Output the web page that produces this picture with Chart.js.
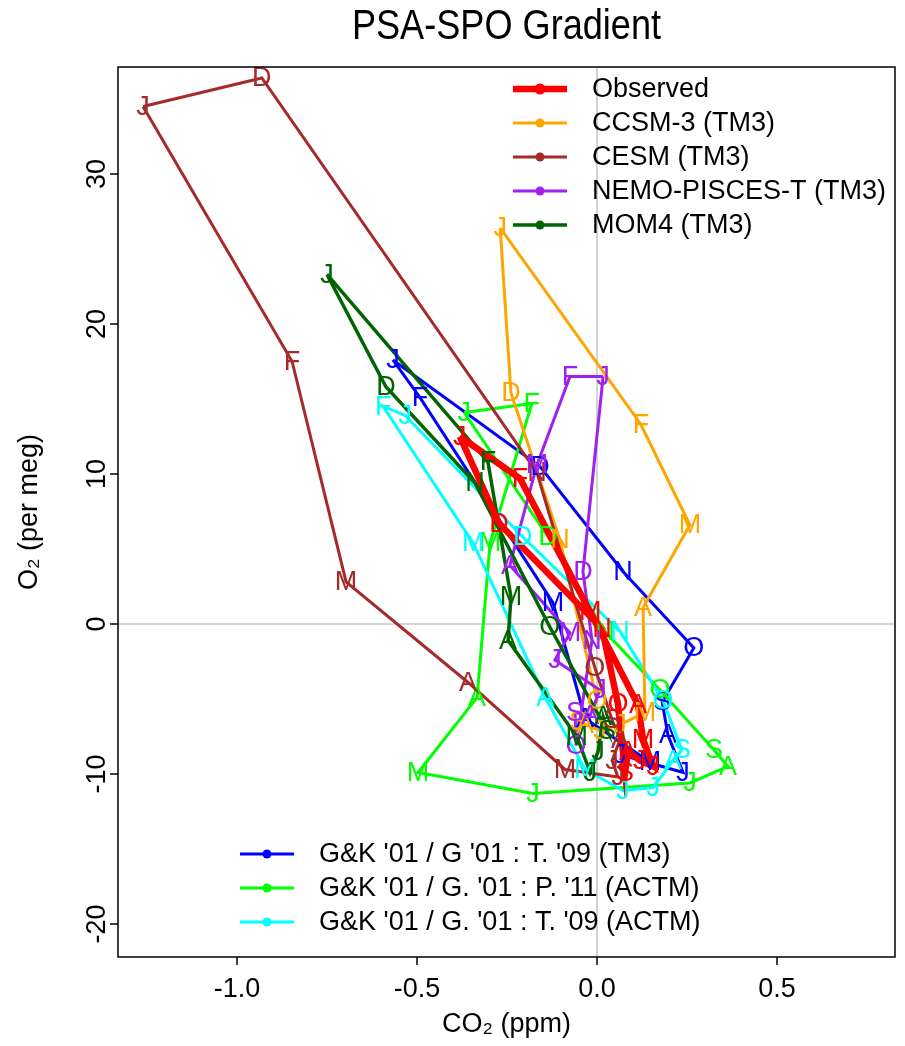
<!DOCTYPE html>
<html>
<head>
<meta charset="utf-8">
<script src="https://cdn.jsdelivr.net/npm/chart.js@4.4.0/dist/chart.umd.min.js"></script>
<style>
  html, body { margin: 0; padding: 0; background: #fff; }
  #wrap { width: 905px; height: 1046px; }
</style>
</head>
<body>
<div id="wrap"><canvas id="grafico" width="905" height="1046"></canvas></div>
<script>
/* PSA-SPO gradient – ciclo estacional O2 vs CO2 */

const MESES = ["J", "F", "M", "A", "M", "J", "J", "A", "S", "O", "N", "D"];
const X_TICKS = [-1.0, -0.5, 0.0, 0.5];
const Y_TICKS = [-20, -10, 0, 10, 20, 30];

// Observed
const obsCO2 = [-0.381, -0.214, -0.019, 0.114, 0.128, 0.156, 0.119, 0.086, 0.078, 0.058, 0.014, -0.272];
const obsO2  = [12.5, 9.7, 0.8, -5.4, -7.7, -9.5, -9.1, -8.5, -9.9, -5.3, -0.3, 6.7];

// CCSM-3 (TM3)
const ccsmCO2 = [-0.269, 0.122, 0.258, 0.128, 0.133, 0.064, 0.008, -0.033, -0.053, 0.0, -0.103, -0.239];
const ccsmO2  = [26.4, 13.3, 6.6, 1.1, -5.9, -6.7, -7.1, -6.7, -6.5, -5.1, 5.6, 15.4];

// CESM (TM3)
const cesmCO2 = [-1.261, -0.847, -0.697, -0.358, -0.089, 0.058, 0.042, 0.064, 0.042, -0.006, -0.167, -0.931];
const cesmO2  = [34.5, 17.5, 2.8, -3.9, -9.7, -10.2, -9.1, -7.7, -6.4, -2.9, 10.1, 36.4];

// NEMO-PISCES-T (TM3)
const nemoCO2 = [0.017, -0.075, -0.167, -0.242, -0.075, -0.117, 0.008, -0.019, -0.061, -0.058, -0.014, -0.039];
const nemoO2  = [16.5, 16.5, 10.6, 3.9, -0.6, -2.4, -4.4, -6.1, -5.9, -8.1, -1.1, 3.5];

// MOM4 (TM3)
const momCO2 = [-0.75, -0.303, -0.239, -0.247, -0.056, -0.019, 0.003, 0.017, 0.028, -0.131, -0.339, -0.586];
const momO2  = [23.3, 10.8, 1.8, -1.1, -7.5, -9.9, -8.5, -6.2, -7.1, -0.2, 9.4, 15.8];

// G&K '01 / G '01 : T. '09 (TM3)
const gkTm3CO2 = [-0.567, -0.492, -0.122, -0.033, 0.147, 0.064, 0.239, 0.197, 0.181, 0.269, 0.072, -0.158];
const gkTm3O2  = [17.6, 15.1, 1.4, -6.3, -9.2, -8.7, -9.9, -7.4, -5.2, -1.6, 3.5, 10.5];

// G&K '01 / G. '01 : P. '11 (ACTM)
const gkP11CO2 = [-0.369, -0.181, -0.297, -0.333, -0.497, -0.178, 0.258, 0.364, 0.325, 0.175, 0.022, -0.136];
const gkP11O2  = [14.1, 14.7, 5.4, -4.9, -9.9, -11.3, -10.6, -9.5, -8.4, -4.4, -0.5, 5.8];

// G&K '01 / G. '01 : T. '09 (ACTM)
const gkT09CO2 = [-0.533, -0.594, -0.344, -0.144, -0.033, 0.072, 0.156, 0.211, 0.236, 0.183, 0.064, -0.206];
const gkT09O2  = [13.9, 14.5, 5.4, -4.9, -9.7, -11.1, -10.9, -9.1, -8.4, -5.1, -0.5, 5.8];

const FUENTE = "'Liberation Sans', Arial, sans-serif";

// ── DATASETS ──────────────────────────────────

function serie(label, co2, o2, color, ancho) {
  const puntos = co2.map((x, i) => ({ x: x, y: o2[i] }));
  puntos.push({ x: co2[0], y: o2[0] });   // cerrar el ciclo (D -> J)
  return {
    label: label,
    data: puntos,
    borderColor: color,
    backgroundColor: color,
    borderWidth: ancho,
    pointRadius: 0,
    showLine: true,
    tension: 0,
  };
}

// el primero queda dibujado encima
const datasets = [
  serie("Observed", obsCO2, obsO2, "#FF0000", 6.5),
  serie("MOM4 (TM3)", momCO2, momO2, "#006400", 3.5),
  serie("NEMO-PISCES-T (TM3)", nemoCO2, nemoO2, "#A020F0", 3),
  serie("CESM (TM3)", cesmCO2, cesmO2, "#A52A2A", 3),
  serie("CCSM-3 (TM3)", ccsmCO2, ccsmO2, "#FFA500", 3),
  serie("G&K '01 / G. '01 : T. '09 (ACTM)", gkT09CO2, gkT09O2, "#00FFFF", 3),
  serie("G&K '01 / G. '01 : P. '11 (ACTM)", gkP11CO2, gkP11O2, "#00FF00", 3),
  serie("G&K '01 / G '01 : T. '09 (TM3)", gkTm3CO2, gkTm3O2, "#0000FF", 3),
];

const LEYENDA_ARRIBA = ["Observed", "CCSM-3 (TM3)", "CESM (TM3)", "NEMO-PISCES-T (TM3)", "MOM4 (TM3)"];
const LEYENDA_ABAJO = ["G&K '01 / G '01 : T. '09 (TM3)", "G&K '01 / G. '01 : P. '11 (ACTM)", "G&K '01 / G. '01 : T. '09 (ACTM)"];

// ── PLUGINS ───────────────────────────────────

// letras de los meses sobre cada punto
const letrasMeses = {
  id: "letrasMeses",
  afterDatasetsDraw(chart) {
    const ctx = chart.ctx;
    ctx.save();
    ctx.font = "27px " + FUENTE;
    ctx.textAlign = "center";
    ctx.textBaseline = "middle";
    for (let d = chart.data.datasets.length - 1; d >= 0; d--) {
      const meta = chart.getDatasetMeta(d);
      ctx.fillStyle = chart.data.datasets[d].borderColor;
      MESES.forEach((m, i) => {
        const p = meta.data[i];
        ctx.fillText(m, p.x, p.y + 1);
      });
    }
    ctx.restore();
  }
};

function dibujarLeyenda(chart, nombres, x0, y0, paso) {
  const ctx = chart.ctx;
  nombres.forEach((nombre, i) => {
    const ds = chart.data.datasets.find(d => d.label === nombre);
    const y = y0 + i * paso;
    ctx.strokeStyle = ds.borderColor;
    ctx.fillStyle = ds.borderColor;
    ctx.lineWidth = ds.borderWidth;
    ctx.beginPath();
    ctx.moveTo(x0, y);
    ctx.lineTo(x0 + 54, y);
    ctx.stroke();
    ctx.beginPath();
    ctx.arc(x0 + 27, y, ds.borderWidth > 4 ? 5.5 : 4.5, 0, Math.PI * 2);
    ctx.fill();
    ctx.fillStyle = "#000";
    ctx.fillText(nombre, x0 + 79, y + 1);
  });
}

const decoracion = {
  id: "decoracion",
  afterDraw(chart) {
    const ctx = chart.ctx;
    const a = chart.chartArea;
    const ys = chart.scales.y;
    ctx.save();

    // caja
    ctx.strokeStyle = "#000";
    ctx.lineWidth = 1.5;
    ctx.strokeRect(a.left, a.top, a.right - a.left, a.bottom - a.top);

    // titulo (algo estrecho, como en el original)
    ctx.fillStyle = "#000";
    ctx.textAlign = "center";
    ctx.textBaseline = "middle";
    ctx.save();
    ctx.translate((a.left + a.right) / 2, 27);
    ctx.scale(0.86, 1);
    ctx.font = "42px " + FUENTE;
    ctx.fillText("PSA-SPO Gradient", 0, 0);
    ctx.restore();

    // etiquetas eje y (verticales, estilo R)
    ctx.font = "27px " + FUENTE;
    Y_TICKS.forEach(v => {
      ctx.save();
      ctx.translate(a.left - 20, ys.getPixelForValue(v));
      ctx.rotate(-Math.PI / 2);
      ctx.fillText(String(v), 0, 0);
      ctx.restore();
    });

    // titulos de ejes
    ctx.save();
    ctx.translate(30, (a.top + a.bottom) / 2);
    ctx.rotate(-Math.PI / 2);
    ctx.fillText("O\u2082 (per meg)", 0, 0);
    ctx.restore();
    ctx.fillText("CO\u2082 (ppm)", (a.left + a.right) / 2, 1025);

    // leyendas
    ctx.textAlign = "left";
    dibujarLeyenda(chart, LEYENDA_ARRIBA, 513, 89, 34);
    dibujarLeyenda(chart, LEYENDA_ABAJO, 240, 854, 34);

    ctx.restore();
  }
};

// ── GRAFICO ───────────────────────────────────

const gridCero = ctx => (ctx.tick && ctx.tick.value === 0) ? "#D3D3D3" : "rgba(0,0,0,0)";

new Chart(document.getElementById("grafico"), {
  type: "scatter",
  data: { datasets: datasets },
  options: {
    responsive: false,
    animation: false,
    layout: { padding: { left: 0, right: 10, top: 67, bottom: 0 } },
    plugins: {
      legend: { display: false },
      tooltip: { enabled: false },
      title: { display: false },
    },
    scales: {
      x: {
        type: "linear",
        min: -1.3306,
        max: 0.8278,
        afterBuildTicks: s => { s.ticks = X_TICKS.map(v => ({ value: v })); },
        afterFit: s => { s.height = 89; },
        ticks: {
          color: "#000",
          font: { size: 27, family: FUENTE },
          padding: 8,
          maxRotation: 0,
          callback: v => Number(v).toFixed(1),
        },
        grid: { color: gridCero, lineWidth: 2, tickColor: "#000", tickWidth: 1.5, tickLength: 8, drawTicks: true },
        border: { display: false },
      },
      y: {
        type: "linear",
        min: -22.2,
        max: 37.13,
        afterBuildTicks: s => { s.ticks = Y_TICKS.map(v => ({ value: v })); },
        afterFit: s => { s.width = 118; },
        ticks: { display: false },
        grid: { color: gridCero, lineWidth: 2, tickColor: "#000", tickWidth: 1.5, tickLength: 8, drawTicks: true },
        border: { display: false },
      }
    }
  },
  plugins: [letrasMeses, decoracion]
});
</script>
</body>
</html>
